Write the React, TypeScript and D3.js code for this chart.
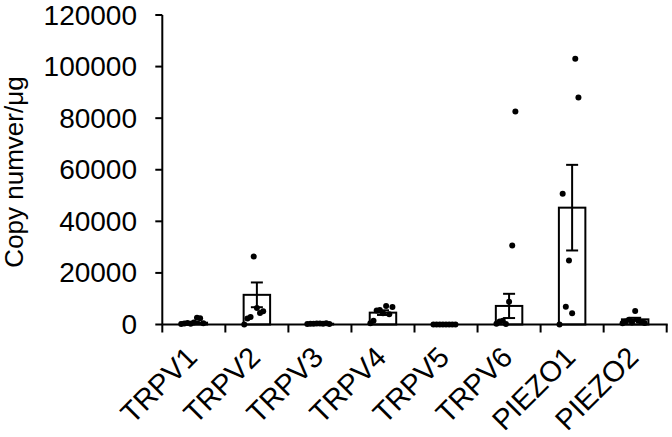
import React from "react";
import * as d3 from "d3";

const categories = ["TRPV1", "TRPV2", "TRPV3", "TRPV4", "TRPV5", "TRPV6", "PIEZO1", "PIEZO2"];
const means = [700, 11500, 300, 4600, 0, 7200, 45300, 2000];
const sems = [300, 4800, 100, 900, 0, 4700, 16600, 600];
const trpv1Points = [200, 400, 600, 300, 800, 2600, 2400, 500];
const trpv2Points = [0, 2300, 2950, 26400, 6400, 4500, 5150];
const trpv3Points = [200, 300, 250, 400, 350, 300, 450, 200];
const trpv4Points = [460, 1500, 5400, 5600, 4350, 7200, 4000, 6800];
const trpv5Points = [0, 0, 0, 0, 0, 0, 0, 0];
const trpv6Points = [300, 1200, 1500, 200, 8850, 30600, 82600];
const piezo1Points = [0, 50700, 6900, 24800, 4350, 103000, 88000];
const piezo2Points = [500, 1200, 1800, 800, 5250, 1500, 1000, 600];
const pointsByCategory = [trpv1Points, trpv2Points, trpv3Points, trpv4Points, trpv5Points, trpv6Points, piezo1Points, piezo2Points];
const yTicks = [0, 20000, 40000, 60000, 80000, 100000, 120000];
const yLabel = "Copy numver/μg";

const W = 672;
const H = 437;
const left = 162.3;
const right = 666.7;
const top = 15;
const bottom = 324.5;
const font = "'Liberation Sans', Arial, sans-serif";

export default function App() {
  const x = d3.scaleBand<string>().domain(categories).range([left, right]).paddingInner(0).paddingOuter(0);
  const y = d3.scaleLinear().domain([0, 120000]).range([bottom, top]);
  const bw = x.bandwidth();
  const barW = bw * 0.42;
  const capW = 12;
  const boundaries = d3.range(categories.length + 1).map((i) => left + i * bw);

  return (
    <svg width={W} height={H} style={{ position: "absolute", left: 0, top: 0, background: "#fff" }} fontFamily={font}>
      {categories.map((c, i) => {
        const cx = (x(c) as number) + bw / 2;
        return (
          <rect key={"b" + c} x={cx - barW / 2} y={y(means[i])} width={barW} height={bottom - y(means[i])}
            fill="#fff" stroke="#000" strokeWidth={2} />
        );
      })}
      {categories.map((c, i) => {
        const cx = (x(c) as number) + bw / 2;
        if (sems[i] <= 0) return null;
        const hi = y(means[i] + sems[i]);
        const lo = y(Math.max(0, means[i] - sems[i]));
        return (
          <g key={"e" + c} stroke="#000" strokeWidth={2}>
            <line x1={cx} x2={cx} y1={hi} y2={lo} />
            <line x1={cx - capW / 2} x2={cx + capW / 2} y1={hi} y2={hi} />
            <line x1={cx - capW / 2} x2={cx + capW / 2} y1={lo} y2={lo} />
          </g>
        );
      })}
      {categories.map((c, i) => {
        const start = (x(c) as number) + bw * 0.3;
        const step = bw * 0.05;
        return pointsByCategory[i].map((v, j) => (
          <circle key={"p" + c + j} cx={start + j * step} cy={y(v)} r={3} fill="#000" />
        ));
      })}
      <line x1={left} x2={left} y1={top} y2={bottom} stroke="#000" strokeWidth={2} />
      <line x1={left} x2={right + 1} y1={bottom} y2={bottom} stroke="#000" strokeWidth={2} />
      {yTicks.map((t) => (
        <g key={"yt" + t}>
          <line x1={left - 7} x2={left} y1={y(t)} y2={y(t)} stroke="#000" strokeWidth={2} />
          <text x={137} y={y(t)} textAnchor="end" dominantBaseline="central" fontSize={28} fill="#000">{t}</text>
        </g>
      ))}
      {boundaries.map((bx, i) => (
        <line key={"xt" + i} x1={bx} x2={bx} y1={bottom} y2={bottom + 8} stroke="#000" strokeWidth={2} />
      ))}
      {categories.map((c) => {
        const cx = (x(c) as number) + bw / 2;
        return (
          <text key={"xl" + c} transform={`translate(${cx + 5},359) rotate(-45)`} textAnchor="end" fontSize={29} fill="#000">{c}</text>
        );
      })}
      <text transform={`translate(23,172) rotate(-90)`} textAnchor="middle" fontSize={26} fill="#000">{yLabel}</text>
    </svg>
  );
}
